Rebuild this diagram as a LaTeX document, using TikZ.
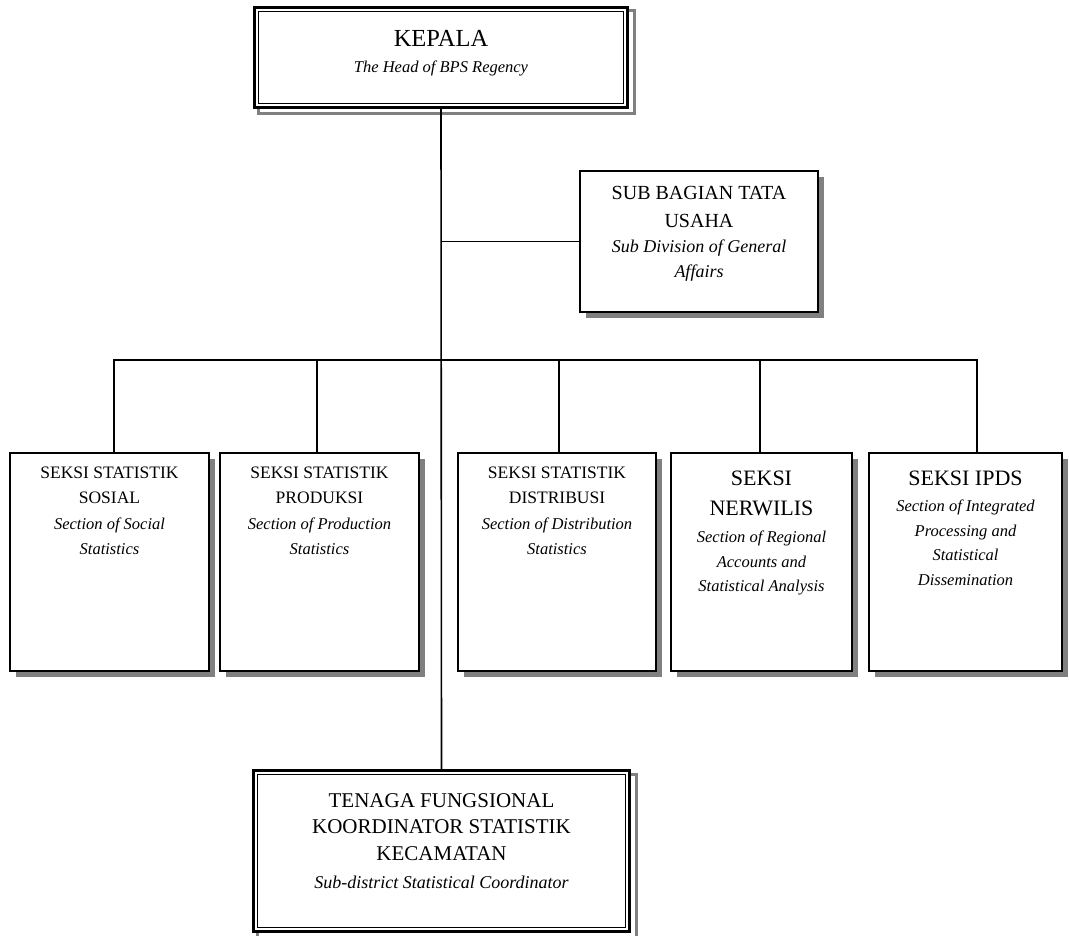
\documentclass[tikz,border=0pt]{standalone}
\usepackage{fontspec}
\setmainfont{Liberation Serif}
\usetikzlibrary{shadows}
\definecolor{shadowgray}{HTML}{808080}
\pgfdeclarelayer{bg}
\pgfsetlayers{bg,main}
\begin{document}
\begin{tikzpicture}[x=1pt,y=-1pt,
  conn/.style={line width=1.6pt},
  secbox/.style={draw, line width=1.8pt, fill=white, inner sep=0pt,
    minimum height=218pt,
    drop shadow={shadow xshift=6pt, shadow yshift=-6pt, fill=shadowgray, opacity=1}},
  dblbox/.style={draw, line width=3pt, fill=white, inner sep=0pt},
  innerline/.style={line width=1.4pt},
  shadowline/.style={draw=shadowgray, line width=3pt},
  txt/.style={inner sep=0pt, align=center, anchor=north},
  caps/.style={font=\fontsize{17.5}{25}\selectfont},
  ital/.style={font=\fontsize{16.5}{25}\selectfont\itshape}
]
\useasboundingbox (0,0) rectangle (1069,936);

% ---- top box
\node[dblbox, minimum width=373pt, minimum height=100pt] (kepala) at (441,57.5) {};
\draw[innerline] ([shift={(5.3,5.3)}]kepala.north west) rectangle ([shift={(-5.3,-5.3)}]kepala.south east);
\node[txt, font=\fontsize{24.5}{30}\selectfont] (kepalat) at (441,30) {KEPALA};
\node[txt, font=\fontsize{16.5}{25}\selectfont\itshape] (kepalai) at (441,60.7) {The Head of BPS Regency};

% ---- sub bagian
\node[draw, line width=1.8pt, fill=white, minimum width=238pt, minimum height=141pt,
  drop shadow={shadow xshift=6pt, shadow yshift=-6pt, fill=shadowgray, opacity=1}] (sub) at (699,241.5) {};
\node[txt, font=\fontsize{20}{28}\selectfont] (subt) at (699,186.4) {SUB BAGIAN TATA\\USAHA};
\node[txt, font=\fontsize{18}{25}\selectfont\itshape] (subi) at (699,239.7) {Sub Division of General\\Affairs};

% ---- section boxes
\node[secbox, minimum width=199pt] (b1) at (109.5,562) {};
\node[secbox, minimum width=199pt] (b2) at (319.5,562) {};
\node[secbox, minimum width=198pt] (b3) at (557,562) {};
\node[secbox, minimum width=181pt] (b4) at (761.5,562) {};
\node[secbox, minimum width=193pt] (b5) at (965.5,562) {};

\node[txt, caps] (b1t) at (109.5,467) {SEKSI STATISTIK\\SOSIAL};
\node[txt, ital] (b1i) at (109.5,518) {Section of Social\\Statistics};
\node[txt, caps] (b2t) at (319.5,467) {SEKSI STATISTIK\\PRODUKSI};
\node[txt, ital] (b2i) at (319.5,518) {Section of Production\\Statistics};
\node[txt, caps] (b3t) at (557,467) {SEKSI STATISTIK\\DISTRIBUSI};
\node[txt, ital] (b3i) at (557,518) {Section of Distribution\\Statistics};
\node[txt, font=\fontsize{22}{30}\selectfont] (b4t) at (761.5,470.7) {SEKSI\\NERWILIS};
\node[txt, font=\fontsize{16.5}{24.5}\selectfont\itshape] (b4i) at (761.5,530.7) {Section of Regional\\Accounts and\\Statistical Analysis};
\node[txt, font=\fontsize{22}{30}\selectfont] (b5t) at (965.5,470.7) {SEKSI IPDS};
\node[txt, font=\fontsize{16.5}{24.5}\selectfont\itshape] (b5i) at (965.5,499.7) {Section of Integrated\\Processing and\\Statistical\\Dissemination};

% ---- bottom box
\node[dblbox, minimum width=376pt, minimum height=161pt] (tenaga) at (441.5,851) {};
\draw[innerline] ([shift={(5.3,5.3)}]tenaga.north west) rectangle ([shift={(-5.3,-5.3)}]tenaga.south east);
\node[txt, font=\fontsize{21}{26.5}\selectfont] (tenagat) at (441.5,793) {TENAGA FUNGSIONAL\\KOORDINATOR STATISTIK\\KECAMATAN};
\node[txt, font=\fontsize{18}{25}\selectfont\itshape] (tenagai) at (441.5,875.7) {Sub-district Statistical Coordinator};

% ---- paper and shadows of the double boxes
\begin{pgfonlayer}{bg}
\fill[white] (0,0) rectangle (1069,936);
\draw[shadowline] ([shift={(5,5)}]kepala.north west) rectangle ([shift={(5,5)}]kepala.south east);
\draw[shadowline] ([shift={(5,5)}]tenaga.north west) rectangle ([shift={(5,5)}]tenaga.south east);
\end{pgfonlayer}

% ---- connectors
\coordinate (bus) at (441,360);
\draw[conn] (kepala.south) -- (tenaga.north);
\draw[conn] (sub.west) -- (sub.west -| kepala.south);
\draw[conn] ([xshift=4.5pt]b1.north) -- ([xshift=4.5pt]b1.north |- bus) -- ([xshift=11.5pt]b5.north |- bus) -- ([xshift=11.5pt]b5.north);
\draw[conn] ([xshift=-2.5pt]b2.north) -- ([xshift=-2.5pt]b2.north |- bus);
\draw[conn] ([xshift=2pt]b3.north) -- ([xshift=2pt]b3.north |- bus);
\draw[conn] ([xshift=-1.5pt]b4.north) -- ([xshift=-1.5pt]b4.north |- bus);
\end{tikzpicture}
\end{document}
